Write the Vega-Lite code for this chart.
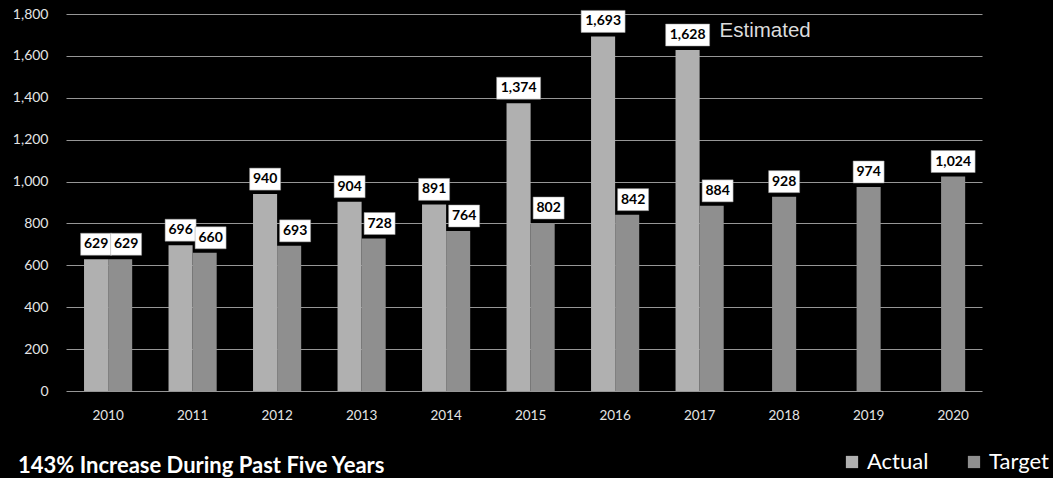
{
  "$schema": "https://vega.github.io/schema/vega-lite/v6.json",
  "width": 916,
  "height": 377,
  "autosize": {"type": "none"},
  "padding": {"left": 66, "top": 14, "right": 71, "bottom": 87},
  "background": "#000000",
  "config": {"view": {"stroke": null}},
  "title": {
    "text": "143% Increase During Past Five Years",
    "orient": "bottom",
    "anchor": "start",
    "frame": "group",
    "dx": -48,
    "offset": -17,
    "color": "#ffffff",
    "font": "Lato",
    "fontSize": 22,
    "fontWeight": "bold"
  },
  "data": {
    "values": [
      {"year": "2010", "series": "Actual", "value": 629},
      {"year": "2010", "series": "Target", "value": 629},
      {"year": "2011", "series": "Actual", "value": 696},
      {"year": "2011", "series": "Target", "value": 660},
      {"year": "2012", "series": "Actual", "value": 940},
      {"year": "2012", "series": "Target", "value": 693},
      {"year": "2013", "series": "Actual", "value": 904},
      {"year": "2013", "series": "Target", "value": 728},
      {"year": "2014", "series": "Actual", "value": 891},
      {"year": "2014", "series": "Target", "value": 764},
      {"year": "2015", "series": "Actual", "value": 1374},
      {"year": "2015", "series": "Target", "value": 802},
      {"year": "2016", "series": "Actual", "value": 1693},
      {"year": "2016", "series": "Target", "value": 842},
      {"year": "2017", "series": "Actual", "value": 1628},
      {"year": "2017", "series": "Target", "value": 884},
      {"year": "2018", "series": "Target", "value": 928},
      {"year": "2019", "series": "Target", "value": 974},
      {"year": "2020", "series": "Target", "value": 1024}
    ]
  },
  "encoding": {
    "x": {
      "field": "year",
      "type": "ordinal",
      "scale": {"paddingInner": 0.43, "paddingOuter": 0.135, "align": 0.79},
      "axis": {
        "title": null,
        "labelAngle": 0,
        "labelColor": "#e4e4e4",
        "labelFont": "Lato",
        "labelFontSize": 13.5,
        "labelPadding": 17,
        "ticks": false,
        "domain": false
      }
    },
    "y": {
      "field": "value",
      "type": "quantitative",
      "scale": {"domain": [0, 1800]},
      "axis": {
        "title": null,
        "values": [0, 200, 400, 600, 800, 1000, 1200, 1400, 1600, 1800],
        "format": ",d",
        "labelColor": "#e4e4e4",
        "labelFont": "Lato",
        "labelFontSize": 14,
        "labelPadding": 18,
        "ticks": false,
        "domain": false,
        "grid": true,
        "gridColor": "#c8c8c8",
        "gridWidth": 1,
        "gridOpacity": 0.75
      }
    }
  },
  "layer": [
    {
      "transform": [{"filter": "toNumber(datum.year) <= 2017"}],
      "mark": {"type": "bar"},
      "encoding": {
        "xOffset": {"field": "series", "type": "nominal", "scale": {"paddingInner": 0, "paddingOuter": 0}},
        "color": {
          "field": "series",
          "type": "nominal",
          "scale": {"domain": ["Actual", "Target"], "range": ["#b0b0b0", "#8f8f8f"]},
          "legend": {
            "orient": "none",
            "legendX": 775,
            "legendY": 437,
            "direction": "horizontal",
            "title": null,
            "symbolType": "square",
            "symbolSize": 150,
            "symbolStrokeWidth": 0,
            "labelFont": "Lato",
            "labelFontSize": 22,
            "labelColor": "#ffffff",
            "labelOffset": 4,
            "columnPadding": 34
          }
        }
      }
    },
    {
      "transform": [{"filter": "toNumber(datum.year) >= 2018"}],
      "mark": {"type": "bar", "width": {"band": 0.5}},
      "encoding": {
        "color": {"field": "series", "type": "nominal"}
      }
    },
    {
      "transform": [{"filter": "datum.series === 'Actual'"}],
      "mark": {"type": "point", "filled": true, "fill": "#ffffff", "opacity": 1, "stroke": "#999999", "strokeWidth": 0.5, "yOffset": -15, "xOffset": -12},
      "encoding": {
        "shape": {
          "condition": {"test": "datum.value >= 1000", "value": "M-1,-0.5L1,-0.5L1,0.5L-1,0.5Z"},
          "value": "M-1,-0.71L1,-0.71L1,0.71L-1,0.71Z"
        },
        "size": {"condition": {"test": "datum.value >= 1000", "value": 1936}, "value": 961}
      }
    },
    {
      "transform": [{"filter": "datum.series === 'Actual'"}],
      "mark": {"type": "text", "font": "Lato", "fontWeight": "bold", "fontSize": 14, "color": "#000000", "baseline": "middle", "yOffset": -15, "xOffset": -12},
      "encoding": {
        "text": {"field": "value", "type": "quantitative", "format": ","}
      }
    },
    {
      "transform": [{"filter": "datum.series === 'Target' && toNumber(datum.year) <= 2017"}],
      "mark": {"type": "point", "filled": true, "fill": "#ffffff", "opacity": 1, "stroke": "#999999", "strokeWidth": 0.5, "yOffset": -15, "xOffset": 18},
      "encoding": {
        "shape": {
          "condition": {"test": "datum.value >= 1000", "value": "M-1,-0.5L1,-0.5L1,0.5L-1,0.5Z"},
          "value": "M-1,-0.71L1,-0.71L1,0.71L-1,0.71Z"
        },
        "size": {"condition": {"test": "datum.value >= 1000", "value": 1936}, "value": 961}
      }
    },
    {
      "transform": [{"filter": "datum.series === 'Target' && toNumber(datum.year) <= 2017"}],
      "mark": {"type": "text", "font": "Lato", "fontWeight": "bold", "fontSize": 14, "color": "#000000", "baseline": "middle", "yOffset": -15, "xOffset": 18},
      "encoding": {
        "text": {"field": "value", "type": "quantitative", "format": ","}
      }
    },
    {
      "transform": [{"filter": "toNumber(datum.year) >= 2018"}],
      "mark": {"type": "point", "filled": true, "fill": "#ffffff", "opacity": 1, "stroke": "#999999", "strokeWidth": 0.5, "yOffset": -15},
      "encoding": {
        "shape": {
          "condition": {"test": "datum.value >= 1000", "value": "M-1,-0.5L1,-0.5L1,0.5L-1,0.5Z"},
          "value": "M-1,-0.71L1,-0.71L1,0.71L-1,0.71Z"
        },
        "size": {"condition": {"test": "datum.value >= 1000", "value": 1936}, "value": 961}
      }
    },
    {
      "transform": [{"filter": "toNumber(datum.year) >= 2018"}],
      "mark": {"type": "text", "font": "Lato", "fontWeight": "bold", "fontSize": 14, "color": "#000000", "baseline": "middle", "yOffset": -15},
      "encoding": {
        "text": {"field": "value", "type": "quantitative", "format": ","}
      }
    },
    {
      "transform": [{"filter": "datum.year === '2017' && datum.series === 'Actual'"}],
      "mark": {"type": "text", "text": "Estimated", "font": "Liberation Sans", "fontSize": 20.5, "color": "#dcdcdc", "align": "left", "baseline": "middle", "dx": 20},
      "encoding": {
        "y": {"datum": 1720}
      }
    }
  ]
}
